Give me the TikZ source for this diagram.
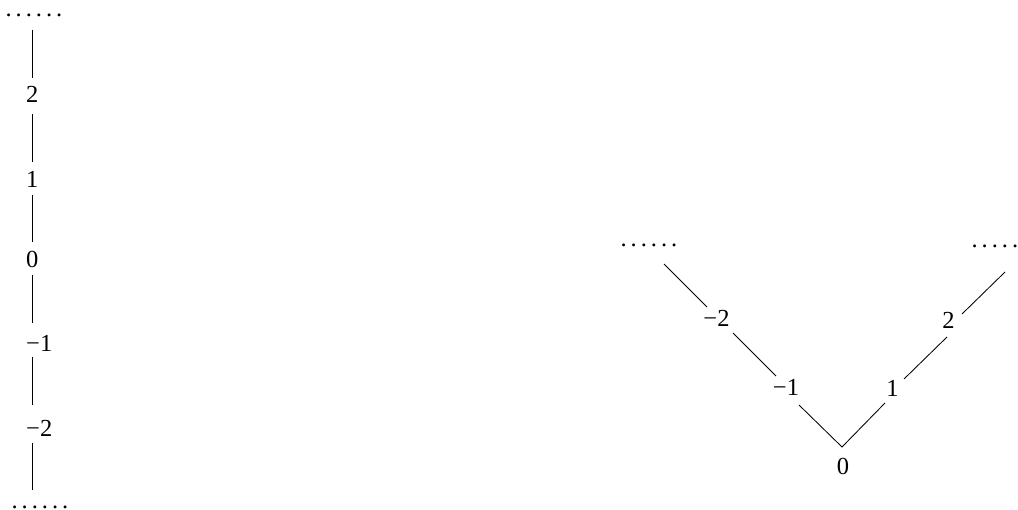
\documentclass[tikz,border=0pt]{standalone}
\usepackage{fontspec}
\setmainfont{Liberation Serif}
\newcommand{\dotrow}{.\kern4.0pt.\kern4.0pt.\kern4.0pt.\kern4.0pt.\kern4.0pt.}
\begin{document}
\begin{tikzpicture}[x=1pt,y=-1pt,
  lbl/.style={inner sep=0pt, font=\fontsize{24.5}{29}\selectfont},
  conn/.style={line width=0.85pt, draw=black}]
\useasboundingbox (0,0) rectangle (1018,510);
% ---------- left vertical chain ----------
\node[lbl, anchor=base west] (ltop) at (5.4,17) {\dotrow};
\node[lbl, anchor=base west] (lp2) at (26,103) {2};
\node[lbl, anchor=base west] (lp1) at (26,188) {1};
\node[lbl, anchor=base west] (lz)  at (26,268) {0};
\node[lbl, anchor=base west] (lm1) at (26,352) {−1};
\node[lbl, anchor=base west] (lm2) at (26,437) {−2};
\node[lbl, anchor=base west] (lbot) at (11.4,508.5) {\dotrow};
\coordinate (va1) at (32,30);  \coordinate (vb1) at (32,78);
\coordinate (va2) at (32,114); \coordinate (vb2) at (32,162);
\coordinate (va3) at (32,195); \coordinate (vb3) at (32,242);
\coordinate (va4) at (32,275); \coordinate (vb4) at (32,323);
\coordinate (va5) at (32,357); \coordinate (vb5) at (32,405);
\coordinate (va6) at (32,443); \coordinate (vb6) at (32,490);
\draw[conn] (va1) -- (vb1);
\draw[conn] (va2) -- (vb2);
\draw[conn] (va3) -- (vb3);
\draw[conn] (va4) -- (vb4);
\draw[conn] (va5) -- (vb5);
\draw[conn] (va6) -- (vb6);
% ---------- right V ----------
\node[lbl, anchor=base west] (vltop) at (620.4,246.5) {\dotrow};
\node[lbl, anchor=base] (vm2) at (716.5,327) {−2};
\node[lbl, anchor=base] (vm1) at (786,396) {−1};
\node[lbl, anchor=base] (vz)  at (843,475) {0};
\node[lbl, anchor=base] (vp1) at (892.5,397) {1};
\node[lbl, anchor=base] (vp2) at (948.5,329) {2};
\node[lbl, anchor=base west] (vrtop) at (971.4,248) {\dotrow};
\coordinate (vertex) at (842,447);
\coordinate (la1) at (664,264); \coordinate (lb1) at (707,307);
\coordinate (la2) at (733,333); \coordinate (lb2) at (776,376);
\coordinate (la3) at (799,405);
\coordinate (rb1) at (885,403);
\coordinate (ra2) at (904,379); \coordinate (rb2) at (947,337);
\coordinate (ra3) at (962,314); \coordinate (rb3) at (1005,272);
\draw[conn] (la1) -- (lb1);
\draw[conn] (la2) -- (lb2);
\draw[conn] (la3) -- (vertex) -- (rb1);
\draw[conn] (ra2) -- (rb2);
\draw[conn] (ra3) -- (rb3);
\end{tikzpicture}
\end{document}
